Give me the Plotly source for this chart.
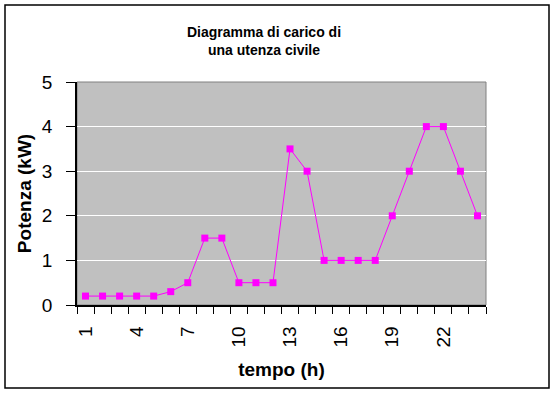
import plotly.graph_objects as go

hours = list(range(1, 25))
power_kw = [0.2, 0.2, 0.2, 0.2, 0.2, 0.3, 0.5, 1.5, 1.5, 0.5, 0.5, 0.5,
            3.5, 3.0, 1.0, 1.0, 1.0, 1.0, 2.0, 3.0, 4.0, 4.0, 3.0, 2.0]
x_tick_vals = [1, 4, 7, 10, 13, 16, 19, 22]
y_tick_vals = [0, 1, 2, 3, 4, 5]

FONT = "Liberation Sans, Arial, sans-serif"
W, H = 554, 394
L, R, T, B = 77, 68, 82, 89
PW, PH = W - L - R, H - T - B

def px_x(x):
    return (x - L) / PW

def px_y(y):
    return (H - B - y) / PH

fig = go.Figure()
fig.add_trace(go.Scatter(
    x=hours, y=power_kw, mode="lines+markers",
    line=dict(color="#FF00FF", width=1),
    marker=dict(symbol="square", size=7, color="#FF00FF"),
    showlegend=False,
))

fig.update_layout(
    width=W, height=H,
    margin=dict(l=L, r=R, t=T, b=B),
    paper_bgcolor="white",
    plot_bgcolor="#C0C0C0",
    font=dict(family=FONT, color="black"),
    title=dict(
        text="<b>Diagramma di carico di<br>una utenza civile</b>",
        x=px_x(264), xref="paper", xanchor="center",
        y=1 - 37 / H, yanchor="top",
        font=dict(size=14, family=FONT),
    ),
    xaxis=dict(
        range=[0.5, 24.5], tickmode="array", tickvals=x_tick_vals,
        ticktext=[str(v) for v in x_tick_vals],
        tickangle=-90, ticks="", ticklabelstandoff=12,
        tickfont=dict(size=19, family=FONT),
        showgrid=False, zeroline=False,
        showline=True, linecolor="black", linewidth=1.5,
        minor=dict(ticks="outside", tickmode="linear", tick0=0.5, dtick=1,
                   ticklen=7, tickcolor="black", tickwidth=1, showgrid=False),
        title=dict(text="<b>tempo (h)</b>", font=dict(size=19, family=FONT), standoff=16),
    ),
    yaxis=dict(
        range=[0, 5], tickmode="array", tickvals=y_tick_vals,
        ticks="outside", ticklen=9, tickcolor="black", ticklabelstandoff=10,
        tickfont=dict(size=19, family=FONT),
        showgrid=True, gridcolor="white", gridwidth=1, zeroline=False,
        showline=True, linecolor="black", linewidth=1.5,
        title=dict(text="<b>Potenza (kW)</b>", font=dict(size=19, family=FONT), standoff=5),
    ),
    shapes=[
        dict(type="rect", xref="paper", yref="paper", x0=0, x1=1, y0=0, y1=1,
             line=dict(color="#808080", width=1), layer="below"),
        dict(type="rect", xref="paper", yref="paper",
             x0=px_x(5), x1=px_x(549), y0=px_y(388), y1=px_y(5),
             line=dict(color="black", width=1.5)),
    ],
)

fig.write_html("out.html",
               config={"displayModeBar": False},
               post_script="document.body.style.margin='0';document.body.style.overflow='hidden';")
